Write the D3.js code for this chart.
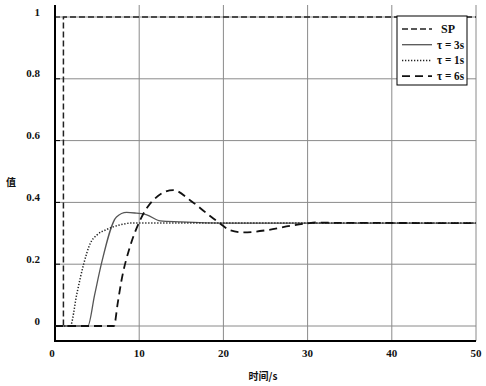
<!DOCTYPE html>
<html>
<head>
<meta charset="utf-8">
<script src="https://cdn.jsdelivr.net/npm/d3@7"></script>
<style>
  body { margin: 0; background: #fff; }
  text { font-family: "Liberation Serif", "DejaVu Serif", serif; font-weight: bold; fill: #111; }
  .cjk { font-family: "Noto Sans CJK SC", sans-serif; }
</style>
</head>
<body>
<div id="chart"></div>
<script>
// Size of the picture
let width = 486;
let height = 386;

// Tick values
let xTicks = [0, 10, 20, 30, 40, 50];
let yTicks = [0, 0.2, 0.4, 0.6, 0.8, 1];
let yTickLabels = ["0", "0.2", "0.4", "0.6", "0.8", "1"];

// Set point
let spTime = [0, 1, 1, 50];
let spValue = [0, 0, 1, 1];

// tau = 3s (solid)
let t3Time = [0, 3.9, 4.7, 5.5, 7.3, 8.5, 9.7, 10.9, 12.5, 14.8, 20, 50];
let t3Value = [0, 0, 0.1, 0.2, 0.353, 0.368, 0.365, 0.36, 0.34, 0.337, 0.333, 0.333];

// tau = 1s (dotted)
let t1Time = [0, 1.8, 2.6, 3.4, 4.2, 5, 6.1, 7.7, 9, 50];
let t1Value = [0, 0, 0.105, 0.2, 0.268, 0.295, 0.312, 0.327, 0.333, 0.333];

// tau = 6s (dashed)
let t6Time = [0, 7, 7.45, 7.9, 8.9, 10.1, 11.7, 14.05, 16, 18, 19.6, 20.8, 22.4, 25.1, 27.9, 29.9, 31, 33, 50];
let t6Value = [0, 0, 0.074, 0.148, 0.256, 0.342, 0.408, 0.44, 0.408, 0.365, 0.332, 0.31, 0.303, 0.31, 0.324, 0.332, 0.335, 0.334, 0.333];

let legendNames = ["SP", "\u03c4 = 3s", "\u03c4 = 1s", "\u03c4 = 6s"];

// Scales
let x = d3.scaleLinear().domain([0, 50]).range([55, 476]);
let y = d3.scaleLinear().domain([0, 1]).range([326, 17]);
let axisY = 341;
let axisTop = 5;

let svg = d3.select('#chart')
.append('svg')
.attr('width', width)
.attr('height', height);

svg.append('rect').attr('width', width).attr('height', height).attr('fill', '#fff');

// Grid
let grid = svg.append('g');
grid.selectAll('.vg')
.data(xTicks.slice(1))
.enter().append('line')
.attr('x1', d => x(d)).attr('x2', d => x(d))
.attr('y1', axisTop).attr('y2', axisY)
.attr('stroke', '#8a8a8a').attr('stroke-width', 1);

grid.selectAll('.hg')
.data(yTicks)
.enter().append('line')
.attr('x1', x(0)).attr('x2', x(50))
.attr('y1', d => y(d)).attr('y2', d => y(d))
.attr('stroke', '#8a8a8a').attr('stroke-width', 1);

// Small ticks on left axis
grid.selectAll('.tk')
.data(yTicks)
.enter().append('line')
.attr('x1', x(0)).attr('x2', x(0) + 5)
.attr('y1', d => y(d)).attr('y2', d => y(d))
.attr('stroke', '#000').attr('stroke-width', 1);

// Axes lines
svg.append('line')
.attr('x1', x(0)).attr('x2', x(0)).attr('y1', axisTop).attr('y2', axisY + 1)
.attr('stroke', '#000').attr('stroke-width', 2);
svg.append('line')
.attr('x1', x(0) - 1).attr('x2', x(50)).attr('y1', axisY).attr('y2', axisY)
.attr('stroke', '#000').attr('stroke-width', 2);

// Tick labels
svg.selectAll('.yl')
.data(yTicks)
.enter().append('text')
.attr('x', 40)
.attr('y', d => y(d) - 1.5)
.attr('text-anchor', 'end')
.style('font-size', '11px')
.text((d, i) => yTickLabels[i]);

svg.selectAll('.xl')
.data(xTicks)
.enter().append('text')
.attr('x', d => x(d) - (d == 0 ? 3 : 0))
.attr('y', 357)
.attr('text-anchor', 'middle')
.style('font-size', '11px')
.text(d => d);

// Titles
svg.append('text')
.attr('class', 'cjk')
.attr('x', 263).attr('y', 380)
.attr('text-anchor', 'middle')
.style('font-size', '10px')
.text('时间/s');

svg.append('text')
.attr('class', 'cjk')
.attr('x', 11).attr('y', 186)
.attr('text-anchor', 'middle')
.style('font-size', '10px')
.text('值');

// Curves
let line = d3.line().x(d => x(d[0])).y(d => y(d[1]));
let smooth = d3.line().x(d => x(d[0])).y(d => y(d[1])).curve(d3.curveMonotoneX);

let series = [
    {pts: d3.zip(spTime, spValue), gen: line, color: '#222', w: 1.5, dash: '6,3'},
    {pts: d3.zip(t3Time, t3Value), gen: smooth, color: '#555', w: 1.3, dash: null},
    {pts: d3.zip(t1Time, t1Value), gen: smooth, color: '#222', w: 1.5, dash: '1.3,1.7'},
    {pts: d3.zip(t6Time, t6Value), gen: smooth, color: '#111', w: 1.8, dash: '8,5'}
];

svg.append('g').selectAll('path')
.data(series)
.enter().append('path')
.attr('d', d => d.gen(d.pts))
.attr('fill', 'none')
.attr('stroke', d => d.color)
.attr('stroke-width', d => d.w)
.attr('stroke-dasharray', d => d.dash);

// Legend
let legend = svg.append('g');
legend.append('rect')
.attr('x', 397).attr('y', 16).attr('width', 70).attr('height', 69)
.attr('fill', '#fff').attr('stroke', '#000').attr('stroke-width', 1);

legend.selectAll('.ll')
.data(series)
.enter().append('line')
.attr('x1', 402).attr('x2', 432)
.attr('y1', (d, i) => 29 + i * 15.7).attr('y2', (d, i) => 29 + i * 15.7)
.attr('stroke', d => d.color)
.attr('stroke-width', d => d.w)
.attr('stroke-dasharray', d => d.dash);

legend.selectAll('.lt')
.data(legendNames)
.enter().append('text')
.attr('x', (d, i) => i == 0 ? 441 : 437)
.attr('y', (d, i) => 33 + i * 15.7)
.attr('textLength', (d, i) => i == 0 ? 14 : 27)
.attr('lengthAdjust', 'spacingAndGlyphs')
.style('font-size', '12px')
.text(d => d);
</script>
</body>
</html>
